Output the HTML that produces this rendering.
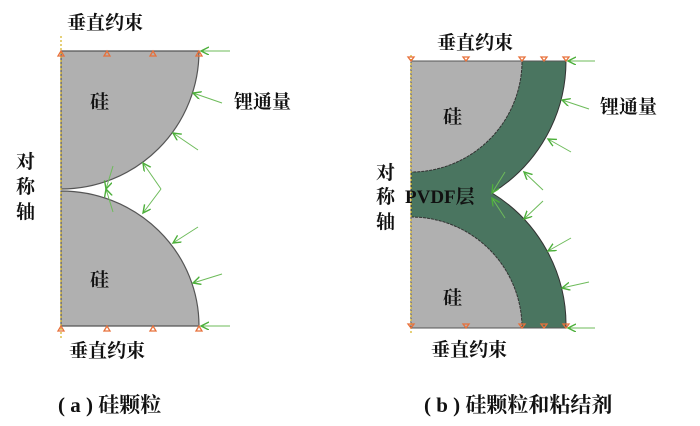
<!DOCTYPE html>
<html><head><meta charset="utf-8"><style>
body{margin:0;background:#fff}
svg text{font-family:"Liberation Serif","Noto Serif CJK SC",serif;font-weight:bold;fill:#111}
</style></head><body>
<svg width="700" height="421" viewBox="0 0 700 421" xmlns="http://www.w3.org/2000/svg">
<defs>
<marker id="ar" markerWidth="10" markerHeight="10" refX="8" refY="4" orient="auto" markerUnits="userSpaceOnUse"><path d="M0,0 L8,4 L0,8" fill="none" stroke="#4caf3a" stroke-width="1.4"/></marker>
</defs>
<!-- (a) -->
<path d="M61,51 L199,51 A138,138 0 0 1 61,189 Z" fill="#b0b0b0" stroke="#555" stroke-width="1.2"/>
<path d="M61,191 A138,135 0 0 1 199,326 L61,326 Z" fill="#b0b0b0" stroke="#555" stroke-width="1.2"/>
<line x1="61" y1="36" x2="61" y2="340" stroke="#d4b21e" stroke-width="1.2" stroke-dasharray="2,2"/>
<g fill="none" stroke="#e8703a" stroke-width="1.3">
<path d="M61,51 l-3,5 h6z M107,51 l-3,5 h6z M153,51 l-3,5 h6z M199,51 l-3,5 h6z"/>
<path d="M61,326 l-3,5 h6z M107,326 l-3,5 h6z M153,326 l-3,5 h6z M199,326 l-3,5 h6z"/>
</g>
<g stroke="#6dbb5a" stroke-width="1" marker-end="url(#ar)">
<line x1="230" y1="51" x2="201" y2="51"/>
<line x1="222" y1="103" x2="193" y2="93"/>
<line x1="198" y1="150" x2="173" y2="133"/>
<line x1="161" y1="189" x2="143" y2="163"/>
<line x1="161" y1="189" x2="143" y2="213"/>
<line x1="113" y1="166" x2="106" y2="189"/>
<line x1="113" y1="212" x2="106" y2="189"/>
<line x1="198" y1="227" x2="173" y2="243"/>
<line x1="222" y1="274" x2="193" y2="283"/>
<line x1="230" y1="326" x2="201" y2="326"/>
</g>
<text x="67" y="29" font-size="19">垂直约束</text>
<text x="90" y="108" font-size="19">硅</text>
<text x="90" y="286" font-size="19">硅</text>
<text x="234" y="108" font-size="19">锂通量</text>
<text x="16" y="168" font-size="19">对</text>
<text x="16" y="193" font-size="19">称</text>
<text x="16" y="218" font-size="19">轴</text>
<text x="69" y="357" font-size="19">垂直约束</text>
<text x="58" y="412" font-size="21">( a ) 硅颗粒</text>
<!-- (b) -->
<path d="M411,61 L566,61 A155,155 0 0 1 492,193 A155,155 0 0 1 566,328 L411,328 Z" fill="#4a7560" stroke="#333" stroke-width="1"/>
<path d="M411,61 L522,61 A111,111 0 0 1 411,172 Z" fill="#b0b0b0" stroke="#333" stroke-width="1" stroke-dasharray="3,1"/>
<path d="M411,217 A111,111 0 0 1 522,328 L411,328 Z" fill="#b0b0b0" stroke="#333" stroke-width="1" stroke-dasharray="3,1"/>
<line x1="411" y1="55" x2="411" y2="335" stroke="#d4b21e" stroke-width="1.2" stroke-dasharray="2,2"/>
<line x1="411" y1="61" x2="566" y2="61" stroke="#555"/>
<line x1="411" y1="328" x2="566" y2="328" stroke="#555"/>
<g fill="none" stroke="#e8703a" stroke-width="1.3">
<path d="M411,61 l-3,-4 h6z M466,61 l-3,-4 h6z M522,61 l-3,-4 h6z M544,61 l-3,-4 h6z M566,61 l-3,-4 h6z"/>
<path d="M411,328 l-3,-4 h6z M466,328 l-3,-4 h6z M522,328 l-3,-4 h6z M544,328 l-3,-4 h6z M566,328 l-3,-4 h6z"/>
</g>
<g stroke="#6dbb5a" stroke-width="1" marker-end="url(#ar)">
<line x1="595" y1="61" x2="568" y2="61"/>
<line x1="589" y1="109" x2="562" y2="100"/>
<line x1="571" y1="152" x2="548" y2="139"/>
<line x1="543" y1="190" x2="524" y2="172"/>
<line x1="543" y1="201" x2="524" y2="219"/>
<line x1="505" y1="172" x2="492" y2="193"/>
<line x1="505" y1="218" x2="492" y2="198"/>
<line x1="571" y1="238" x2="548" y2="251"/>
<line x1="589" y1="282" x2="562" y2="288"/>
<line x1="595" y1="328" x2="568" y2="328"/>
</g>
<text x="437" y="49" font-size="19">垂直约束</text>
<text x="443" y="123" font-size="19">硅</text>
<text x="443" y="304" font-size="19">硅</text>
<text x="600" y="113" font-size="19">锂通量</text>
<text x="376" y="179" font-size="19">对</text>
<text x="376" y="203" font-size="19">称</text>
<text x="376" y="228" font-size="19">轴</text>
<text x="405" y="203" font-size="19">PVDF层</text>
<text x="431" y="356" font-size="19">垂直约束</text>
<text x="424" y="412" font-size="21">( b ) 硅颗粒和粘结剂</text>
</svg>
</body></html>
